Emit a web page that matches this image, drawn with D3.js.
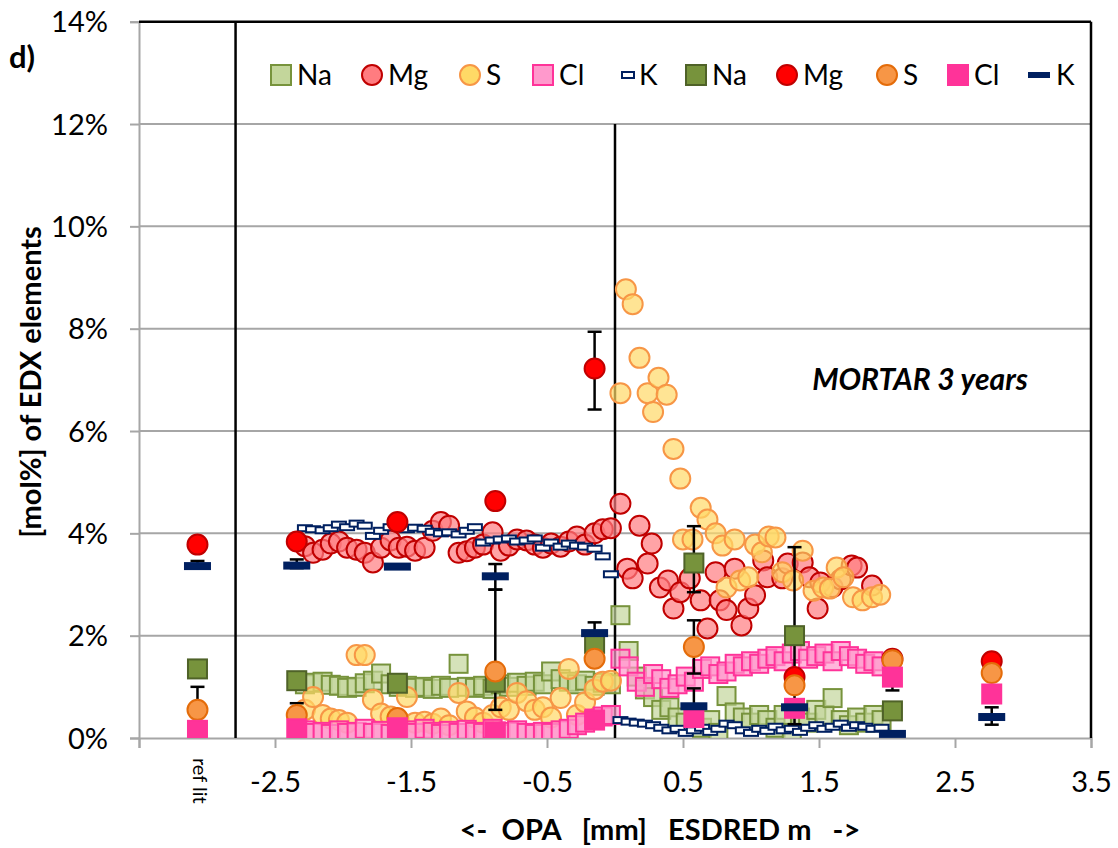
<!DOCTYPE html>
<html>
<head>
<meta charset="utf-8">
<script src="https://cdn.jsdelivr.net/npm/d3@7/dist/d3.min.js"></script>
<style>
  body { margin: 0; background: #fff; }
  svg text { font-family: Lato, "Open Sans", sans-serif; fill: #000; }
</style>
</head>
<body>
<div id="chart"></div>
<script>
// ---- data (mol% of EDX elements) ----
// profile positions [mm], OPA side and ESDRED side
var opaX = [-2.28,-2.22,-2.15,-2.09,-2.03,-1.97,-1.90,-1.84,-1.78,-1.72,-1.65,-1.59,-1.53,-1.47,-1.40,-1.34,-1.28,-1.22,-1.15,-1.09,-1.03,-0.97,-0.90,-0.84,-0.78,-0.72,-0.65,-0.59,-0.53,-0.47,-0.40,-0.34,-0.28,-0.22,-0.15,-0.09,-0.03];
var esdX = [0.04,0.10,0.16,0.22,0.28,0.34,0.40,0.46,0.52,0.58,0.64,0.70,0.76,0.82,0.88,0.94,1.00,1.06,1.12,1.18,1.24,1.30,1.36,1.42,1.48,1.54,1.60,1.66,1.72,1.78,1.84,1.90,1.96];

var naOpa = [1.05,1.08,1.10,1.04,1.02,0.98,1.00,1.07,1.12,1.26,1.05,1.00,1.02,0.98,1.00,0.96,1.02,0.98,1.45,1.00,0.98,1.02,0.96,1.05,1.00,1.08,1.02,1.10,1.05,1.30,1.15,1.10,1.05,1.12,1.02,1.08,1.05];
var naEsd = [2.40,1.70,1.20,0.95,0.80,0.55,0.60,0.40,0.30,0.45,0.20,0.35,0.10,0.82,0.50,0.40,0.30,0.45,0.35,0.20,0.45,0.10,0.40,0.30,0.55,0.45,0.78,0.35,0.25,0.40,0.30,0.45,0.35];

var mgOpa = [3.75,3.62,3.68,3.80,3.84,3.72,3.68,3.62,3.43,3.72,3.86,3.72,3.74,3.66,3.72,4.05,4.22,4.15,3.62,3.65,3.72,3.78,4.02,3.66,3.76,3.88,3.86,3.78,3.72,3.80,3.74,3.84,3.94,3.78,4.00,4.08,4.10];
var mgEsdX = [0.04,0.09,0.13,0.18,0.24,0.27,0.33,0.39,0.43,0.48,0.55,0.63,0.68,0.74,0.77,0.82,0.88,0.93,0.98,1.03,1.09,1.12,1.23,1.27,1.38,1.43,1.49,1.51,1.60,1.66,1.74,1.78,1.89];
var mgEsd = [4.58,3.31,3.12,4.15,3.41,3.80,2.94,3.08,2.53,2.85,3.12,2.69,2.14,3.24,2.69,2.50,3.31,2.20,2.53,2.79,3.47,3.14,3.12,3.41,3.43,3.14,2.53,3.04,2.95,3.10,3.37,3.33,2.98];

var sOpa = [0.55,0.80,0.45,0.38,0.35,0.30,1.62,1.62,0.75,0.48,0.42,0.35,0.80,0.30,0.32,0.28,0.38,0.25,0.88,0.52,0.40,0.30,0.45,0.60,0.55,0.88,0.72,0.55,0.60,0.40,0.78,1.35,0.45,0.70,0.95,1.10,1.12];
var sEsdX = [0.04,0.08,0.13,0.18,0.24,0.28,0.32,0.38,0.43,0.48,0.50,0.57,0.63,0.68,0.74,0.79,0.82,0.88,0.92,0.98,1.03,1.08,1.13,1.18,1.23,1.31,1.38,1.46,1.53,1.58,1.63,1.68,1.75,1.82,1.89,1.95];
var sEsd = [6.74,8.77,8.48,7.43,6.74,6.37,7.04,6.71,5.65,5.07,3.88,3.88,4.50,4.27,4.00,3.76,2.94,3.88,3.08,3.14,3.78,3.63,3.94,3.92,3.24,3.08,3.66,2.88,2.94,2.92,3.33,3.14,2.75,2.69,2.75,2.80];

var clOpa = [0.15,0.10,0.12,0.08,0.15,0.10,0.12,0.18,0.10,0.14,0.08,0.12,0.15,0.10,0.18,0.12,0.08,0.14,0.10,0.16,0.12,0.10,0.18,0.08,0.12,0.15,0.10,0.08,0.12,0.10,0.15,0.18,0.25,0.30,0.38,0.42,0.45];
var clEsd = [1.55,1.40,1.10,1.00,1.25,1.15,0.98,1.05,1.20,1.10,1.35,1.40,1.25,1.30,1.45,1.40,1.50,1.45,1.55,1.60,1.50,1.65,1.70,1.55,1.60,1.65,1.50,1.70,1.60,1.55,1.45,1.50,1.40];

var kOpa = [4.10,4.08,4.06,4.10,4.17,4.12,4.19,4.15,3.95,4.05,4.12,4.15,4.08,4.11,4.09,4.03,4.00,4.02,3.98,4.05,4.12,3.82,3.86,3.88,3.90,3.84,3.86,3.90,3.72,3.82,3.74,3.80,3.76,3.74,3.70,3.55,3.20];
var kEsd = [0.35,0.32,0.30,0.28,0.25,0.20,0.15,0.18,0.10,0.15,0.20,0.12,0.18,0.28,0.25,0.15,0.10,0.18,0.14,0.22,0.15,0.18,0.12,0.20,0.25,0.18,0.22,0.28,0.20,0.25,0.22,0.18,0.20];

// averaged values (ref lit first); errors as plus / minus
var avgX  = [-3.07,-2.34,-1.60,-0.88,-0.15,0.58,1.32,2.04,2.77];
var naAvg = [1.35,1.12,1.07,1.09,1.85,3.42,2.00,0.53,null];
var naErrHi = [0,0,0,0,0,0.72,1.73,0,0];
var naErrLo = [0,0,0,0,0,0.57,1.73,0,0];
var mgAvg = [3.78,3.84,4.22,4.63,7.22,null,1.19,1.55,1.50];
var mgErrHi = [0,0.05,0.08,0.08,0.72,0,0,0,0.05];
var mgErrLo = [0,0.05,0.08,0.08,0.80,0,0,0,0.05];
var sAvg  = [0.55,0.45,0.39,1.30,1.55,1.78,1.03,1.52,1.27];
var sErrHi = [0.45,0.23,0,1.60,0,0.52,0,0,0];
var sErrLo = [0,0,0,0.75,0,0.52,0,0,0];
var clAvg = [0.15,0.18,0.20,0.12,0.35,0.40,0.58,1.19,0.86];
var clErrHi = [0,0,0,0,0,0,0,0.05,0];
var clErrLo = [0,0,0,0,0,0,0,0.26,0];
var kAvg  = [3.36,3.37,3.35,3.16,2.05,0.62,0.60,0.08,0.41];
var kErrHi = [0.10,0.12,0,0.24,0.21,0.35,0,0.05,0.19];
var kErrLo = [0.05,0.05,0,0.26,0,0.35,0,0,0.15];

var yTicks = [0,2,4,6,8,10,12,14];
var xTicks = [-3.5,-2.5,-1.5,-0.5,0.5,1.5,2.5,3.5];
var xTickLabels = ["","-2.5","-1.5","-0.5","0.5","1.5","2.5","3.5"];
var legendNames = ["Na","Mg","S","Cl","K","Na","Mg","S","Cl","K"];

// ---- layout ----
var W = 1118, H = 848;
var pLeft = 139, pRight = 1091, pTop = 21.7, pBottom = 738;

var svg = d3.select("#chart").append("svg").attr("width", W).attr("height", H);
var x = d3.scaleLinear().domain([-3.5, 3.5]).range([pLeft, pRight]);
var y = d3.scaleLinear().domain([0, 14]).range([pBottom, pTop]);

svg.append("defs").append("clipPath").attr("id", "clip")
  .append("rect").attr("x", pLeft).attr("y", pTop).attr("width", pRight - pLeft).attr("height", pBottom - pTop);

// gridlines
svg.append("g").selectAll("line").data(yTicks.filter(function(d){ return d > 0 && d < 14; }))
  .enter().append("line")
  .attr("x1", pLeft).attr("x2", pRight)
  .attr("y1", function(d){ return y(d); }).attr("y2", function(d){ return y(d); })
  .attr("stroke", "#a6a6a6").attr("stroke-width", 2);

// axes
var yAxis = d3.axisLeft(y).tickValues(yTicks).tickSize(9).tickFormat(function(d){ return d + "%"; });
var gy = svg.append("g").attr("transform", "translate(" + pLeft + ",0)").call(yAxis);
gy.select(".domain").attr("stroke", "#a6a6a6").attr("stroke-width", 2);
gy.selectAll(".tick line").attr("stroke", "#a6a6a6").attr("stroke-width", 2);
gy.selectAll("text").attr("x", -31).attr("font-size", 29).attr("dy", "0.35em");

var xAxis = d3.axisBottom(x).tickValues(xTicks).tickSize(10).tickFormat(function(d, i){ return xTickLabels[i]; });
var gx = svg.append("g").attr("transform", "translate(0," + pBottom + ")").call(xAxis);
gx.select(".domain").attr("stroke", "#a6a6a6").attr("stroke-width", 2);
gx.selectAll(".tick line").attr("stroke", "#a6a6a6").attr("stroke-width", 2);
gx.selectAll("text").attr("y", 54).attr("dy", 0).attr("font-size", 29);

// black frame lines (top, right) and separators
var frame = svg.append("g").attr("stroke", "#000").attr("stroke-width", 2.5);
frame.append("line").attr("x1", pLeft).attr("x2", pRight).attr("y1", y(14)).attr("y2", y(14));
frame.append("line").attr("x1", pRight).attr("x2", pRight).attr("y1", y(14)).attr("y2", y(0));
frame.append("line").attr("x1", x(-2.79)).attr("x2", x(-2.79)).attr("y1", y(14)).attr("y2", y(0));
frame.append("line").attr("x1", x(0)).attr("x2", x(0)).attr("y1", y(12)).attr("y2", y(0));

var plot = svg.append("g").attr("clip-path", "url(#clip)");

function pairs(xs, ys) {
  return xs.map(function(d, i){ return {x: d, y: ys[i]}; }).filter(function(d){ return d.y != null; });
}

function drawSquares(data, size, fill, stroke, fo) {
  plot.append("g").selectAll("rect").data(data).enter().append("rect")
    .attr("x", function(d){ return x(d.x) - size/2; })
    .attr("y", function(d){ return y(d.y) - size/2; })
    .attr("width", size).attr("height", size)
    .attr("fill", fill).attr("fill-opacity", fo)
    .attr("stroke", stroke).attr("stroke-width", 2);
}
function drawCircles(data, r, fill, stroke, fo) {
  plot.append("g").selectAll("circle").data(data).enter().append("circle")
    .attr("cx", function(d){ return x(d.x); })
    .attr("cy", function(d){ return y(d.y); })
    .attr("r", r)
    .attr("fill", fill).attr("fill-opacity", fo)
    .attr("stroke", stroke).attr("stroke-width", 2);
}
function drawDashes(data, w, h, fill, stroke) {
  plot.append("g").selectAll("rect").data(data).enter().append("rect")
    .attr("x", function(d){ return x(d.x) - w/2; })
    .attr("y", function(d){ return y(d.y) - h/2; })
    .attr("width", w).attr("height", h)
    .attr("fill", fill).attr("stroke", stroke).attr("stroke-width", 2);
}

// light profile series
var naL = pairs(opaX, naOpa).concat(pairs(esdX, naEsd));
var mgL = pairs(opaX, mgOpa).concat(pairs(mgEsdX, mgEsd));
var sL  = pairs(opaX, sOpa).concat(pairs(sEsdX, sEsd));
var clL = pairs(opaX, clOpa).concat(pairs(esdX, clEsd));
var kL  = pairs(opaX, kOpa).concat(pairs(esdX, kEsd));

drawSquares(naL, 18, "#c3d69b", "#77933c", 0.7);
drawCircles(mgL, 10, "#ff7c80", "#c00000", 0.7);
drawCircles(sL, 10, "#ffd966", "#f79646", 0.7);
drawSquares(clL, 18, "#ff99cc", "#ff3399", 0.7);
drawDashes(kL, 14, 6, "#ffffff", "#002060");

// error bars for averages
var eb = plot.append("g").attr("stroke", "#000").attr("stroke-width", 2.5);
[[naAvg, naErrHi, naErrLo], [mgAvg, mgErrHi, mgErrLo], [sAvg, sErrHi, sErrLo],
 [clAvg, clErrHi, clErrLo], [kAvg, kErrHi, kErrLo]].forEach(function(s){
  avgX.forEach(function(xv, i){
    var v = s[0][i];
    if (v == null) return;
    [v + s[1][i], v - s[2][i]].forEach(function(end, j){
      var e = j == 0 ? s[1][i] : s[2][i];
      if (!(e > 0)) return;
      eb.append("line").attr("x1", x(xv)).attr("x2", x(xv)).attr("y1", y(v)).attr("y2", y(end));
      eb.append("line").attr("x1", x(xv) - 7).attr("x2", x(xv) + 7).attr("y1", y(end)).attr("y2", y(end));
    });
  });
});

// averaged series
drawSquares(pairs(avgX, naAvg), 19, "#77933c", "#4f6228", 1);
drawCircles(pairs(avgX, mgAvg), 10, "#ff0000", "#c00000", 1);
drawCircles(pairs(avgX, sAvg), 10, "#f79646", "#e46c0a", 1);
drawSquares(pairs(avgX, clAvg), 19, "#ff3399", "#ff3399", 1);
drawDashes(pairs(avgX, kAvg), 25, 6, "#002060", "#002060");

// legend
var legX = [281, 372, 470, 543, 628, 696, 787, 887, 958, 1039];
var legY = 75;
var leg = svg.append("g");
var legStyle = [
  {t: "sq", f: "#c3d69b", s: "#77933c"}, {t: "ci", f: "#ff7c80", s: "#c00000"},
  {t: "ci", f: "#ffd966", s: "#f79646"}, {t: "sq", f: "#ff99cc", s: "#ff3399"},
  {t: "da", f: "#ffffff", s: "#002060"}, {t: "sq", f: "#77933c", s: "#4f6228"},
  {t: "ci", f: "#ff0000", s: "#c00000"}, {t: "ci", f: "#f79646", s: "#e46c0a"},
  {t: "sq", f: "#ff3399", s: "#ff3399"}, {t: "dl", f: "#002060", s: "#002060"}
];
legendNames.forEach(function(name, i){
  var st = legStyle[i], cx = legX[i];
  if (st.t == "sq") leg.append("rect").attr("x", cx - 10).attr("y", legY - 10).attr("width", 20).attr("height", 20)
    .attr("fill", st.f).attr("stroke", st.s).attr("stroke-width", 2);
  if (st.t == "ci") leg.append("circle").attr("cx", cx).attr("cy", legY).attr("r", 10)
    .attr("fill", st.f).attr("stroke", st.s).attr("stroke-width", 2);
  if (st.t == "da") leg.append("rect").attr("x", cx - 6).attr("y", legY - 3).attr("width", 12).attr("height", 6)
    .attr("fill", st.f).attr("stroke", st.s).attr("stroke-width", 2);
  if (st.t == "dl") leg.append("rect").attr("x", cx - 11).attr("y", legY - 3).attr("width", 22).attr("height", 6)
    .attr("fill", st.f);
  var tx = (st.t == "da") ? cx + 11 : (st.t == "dl" ? cx + 17 : cx + 16);
  leg.append("text").attr("x", tx).attr("y", legY + 10).attr("font-size", 28).text(name);
});

// labels
svg.append("text").attr("x", 9).attr("y", 68).attr("font-size", 31).attr("font-weight", "bold").text("d)");
svg.append("text").attr("transform", "translate(41," + 382 + ") rotate(-90)")
  .attr("text-anchor", "middle").attr("font-size", 29).attr("font-weight", "bold")
  .text("[mol%] of EDX elements");
svg.append("text").attr("x", 660).attr("y", 840).attr("text-anchor", "middle")
  .attr("font-size", 29).attr("font-weight", "bold").style("white-space", "pre")
  .text("<-  OPA   [mm]   ESDRED m   ->");
svg.append("text").attr("transform", "translate(193,758) rotate(90)")
  .attr("font-size", 20).text("ref lit");
svg.append("text").attr("x", 920).attr("y", 390).attr("text-anchor", "middle")
  .attr("font-size", 30).attr("font-weight", "bold").attr("font-style", "italic")
  .text("MORTAR 3 years");
</script>
</body>
</html>
